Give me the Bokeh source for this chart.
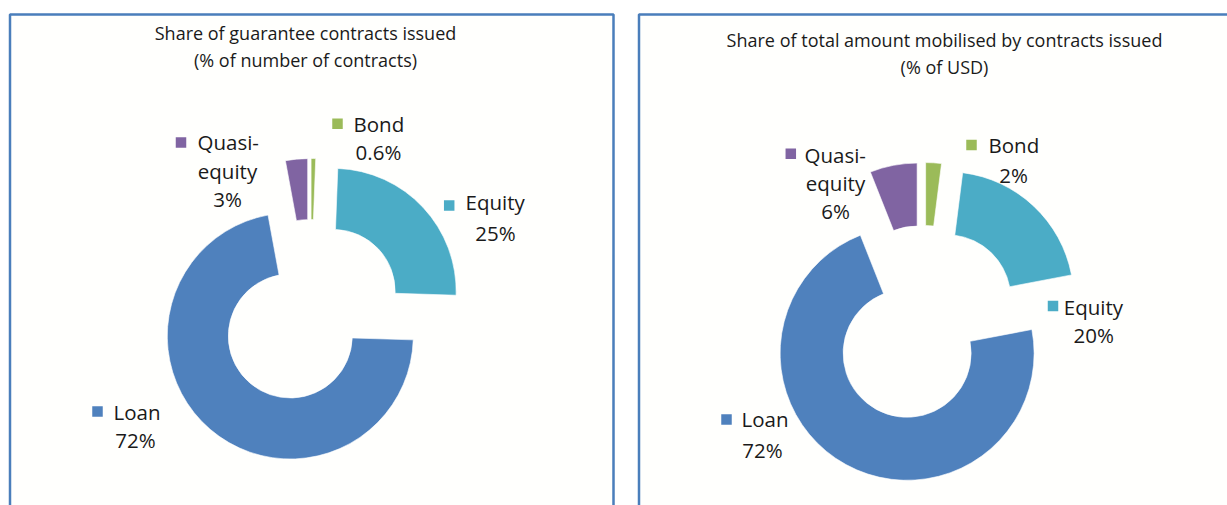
import numpy as np
from bokeh.plotting import figure
from bokeh.models import Range1d, BoxAnnotation
from bokeh.core.properties import value
from bokeh.embed import file_html
from bokeh.resources import INLINE

# ---------------- data ----------------
categories = ["Bond", "Equity", "Loan", "Quasi-equity"]
colors = ["#9BBB59", "#4BACC6", "#4F81BD", "#8064A2"]
count_share = [0.6, 24.9, 71.6, 2.9]          # % of number of contracts
usd_share = [2.0, 20.0, 72.0, 6.0]            # % of USD mobilised
count_labels = ["0.6%", "25%", "72%", "3%"]
usd_labels = ["2%", "20%", "72%", "6%"]
name_lines = [["Bond"], ["Equity"], ["Loan"], ["Quasi-", "equity"]]
title_left = ["Share of guarantee contracts issued", "(% of number of contracts)"]
title_right = ["Share of total amount mobilised by contracts issued", "(% of USD)"]

# ---------------- layout (screen pixels of the page) ----------------
# label layout: (square x, square y, text left, first baseline, centre x of next lines, line height)
panels = [
    dict(values=count_share, labels=count_labels, title=title_left,
         box=(9.5, 613), top=14, cx=310, cy=312, d=31, r_out=123, r_in=62,
         tx=305, tb=[41, 68],
         lab=[(337, 123.3, 353, 132.3, 378, 27.5),
              (448.7, 205, 465, 210, 495, 30.5),
              (97, 411, 113, 420, 135, 27.5),
              (180.5, 142, 197, 150, 227, 28.5)]),
    dict(values=usd_share, labels=usd_labels, title=title_right,
         box=(638.5, 1300), top=14, cx=923, cy=323, d=34, r_out=127, r_in=64,
         tx=944, tb=[48, 75],
         lab=[(971, 144.5, 988, 153.3, 1013, 29.4),
              (1052.5, 305.5, 1063.3, 315, 1093.3, 28.3),
              (726, 419, 741, 427, 762, 30.5),
              (790.3, 153.3, 804, 162.7, 835, 28.3)]),
]

TEXT_DY = 8.5   # compensation for where the svg text baseline lands
FONT = "Open Sans"
W, H = 1227, 505
p = figure(width=W, height=H, x_range=Range1d(0, W), y_range=Range1d(-H, 0),
           output_backend="svg", toolbar_location=None, min_border=0,
           x_axis_type=None, y_axis_type=None)
p.grid.visible = False
p.outline_line_color = None
p.background_fill_color = "white"
p.border_fill_color = "white"

for pan in panels:
    l, r = pan["box"]
    p.add_layout(BoxAnnotation(left=l, right=r, top=-pan["top"], bottom=-900,
                               fill_color="#FFFFFD", fill_alpha=1.0,
                               line_color="#4A7EBB", line_alpha=1.0, line_width=2.5,
                               level="underlay"))

    vals = np.array(pan["values"], dtype=float)
    frac = vals / vals.sum()
    t2 = np.cumsum(frac) * 360.0           # clockwise from 12 o'clock
    t1 = t2 - frac * 360.0
    mid = np.radians((t1 + t2) / 2)
    xs = pan["cx"] + pan["d"] * np.sin(mid)
    ys = -pan["cy"] + pan["d"] * np.cos(mid)
    start = np.radians(90 - t2)
    end = np.radians(90 - t1)
    p.annular_wedge(x=xs, y=ys, inner_radius=pan["r_in"], outer_radius=pan["r_out"],
                    start_angle=start, end_angle=end, fill_color=colors,
                    line_color="white", line_width=0.6)

    # title
    p.text(x=[pan["tx"]] * 2, y=[-(b - TEXT_DY) for b in pan["tb"]], text=pan["title"],
           text_font=value(FONT), text_font_size="18px", text_align="center",
           text_baseline="alphabetic", text_color="#1a1a1a")

    # data labels with legend keys
    for i, (sx, sy, tl, bl, cxl, lh) in enumerate(pan["lab"]):
        p.scatter(x=[sx], y=[-sy], marker="square", size=10.5,
                  fill_color=colors[i], line_color=None)
        lines = name_lines[i]
        p.text(x=[tl], y=[-(bl - TEXT_DY)], text=[lines[0]], text_font=value(FONT),
               text_font_size="20.5px", text_align="left", text_baseline="alphabetic",
               text_color="#1a1a1a")
        rest = lines[1:] + [pan["labels"][i]]
        p.text(x=[cxl] * len(rest),
               y=[-(bl + lh * (k + 1) - TEXT_DY) for k in range(len(rest))],
               text=rest, text_font=value(FONT), text_font_size="20.5px",
               text_align="center", text_baseline="alphabetic", text_color="#1a1a1a")

open("out.html", "w").write(file_html(p, INLINE))
